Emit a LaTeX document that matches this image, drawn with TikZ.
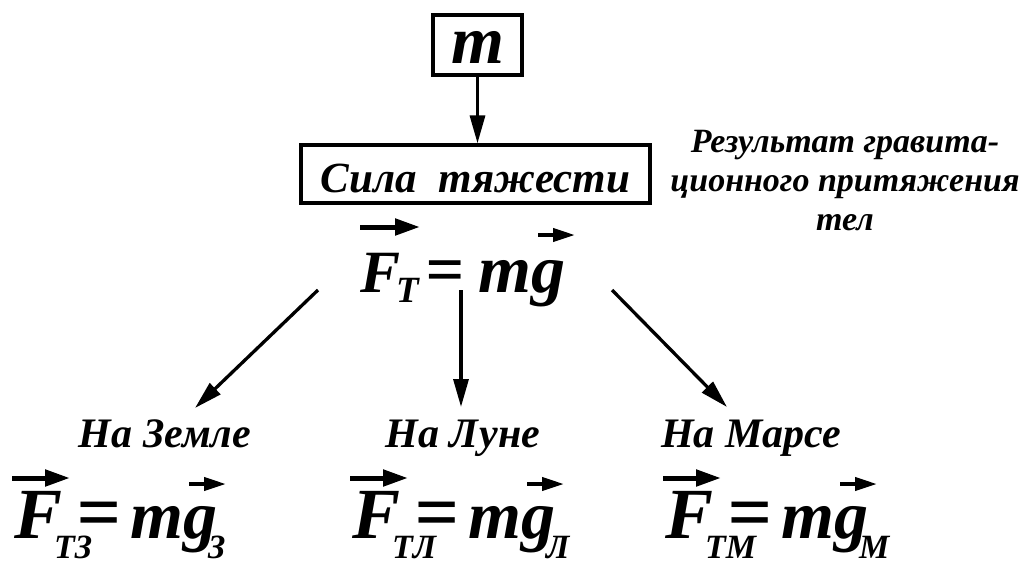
\documentclass[tikz,border=0pt]{standalone}
\usepackage{fontspec}
\newfontfamily\tbi{LiberationSerif-BoldItalic.ttf}
\usetikzlibrary{arrows.meta}
\newcommand\sz[1]{\fontsize{#1}{#1}\selectfont}
\tikzset{
  >={Triangle[length=28pt,width=15pt]},
  box/.style={draw,line width=3.3pt,inner sep=0pt,text height=36pt,text depth=0pt},
  link/.style={->,line width=3.3pt},
  fml/.style={inner sep=0pt,anchor=base west},
  lbl/.style={anchor=base,font=\sz{42}\tbi},
  vecF/.style={line width=5pt,-{Triangle[length=25pt,width=16pt]}},
  vecg/.style={line width=4pt,-{Triangle[length=22pt,width=13pt]}}
}
% piece of a formula, shifted right by #1 and up by #2
\newcommand\at[3]{\rlap{\kern#1\raisebox{#2}{#3}}}
% F_{..} = m g_{..}
\newcommand\gform[2]{\makebox[230pt][l]{%
  \at{0pt}{0pt}{\sz{72}F}%
  \at{40pt}{-20pt}{\sz{34}#1}%
  \at{62pt}{0pt}{\sz{78}=}%
  \at{116pt}{0pt}{\sz{68}mg}%
  \at{194pt}{-20pt}{\sz{34}#2}}}
\begin{document}
\begin{tikzpicture}[x=1pt,y=-1pt,font=\tbi]
\useasboundingbox (0,0) rectangle (1025,563);
\node[box,minimum width=89pt,minimum height=60pt,font=\sz{68}\tbi] (m) at (477.5,45) {m};
\node[box,minimum width=349pt,minimum height=58pt,font=\sz{43}\tbi] (sila) at (475.5,174) {Сила~~тяжести};
\draw[link] (m.south) -- (m.south |- sila.north);
\node[fml] (ftop) at (360,292) {\makebox[220pt][l]{%
  \at{0pt}{0pt}{\sz{60}F}%
  \at{36pt}{-10pt}{\sz{37}Т}%
  \at{65pt}{0pt}{\sz{68}=}%
  \at{118pt}{0pt}{\sz{68}mg}}};
\draw[vecF] ([shift={(0,-65)}]ftop.base west) -- ++(60,0);
\draw[vecg] ([shift={(178,-57)}]ftop.base west) -- ++(37,0);
\node[align=center,font=\fontsize{34}{39}\selectfont\tbi,anchor=base] (note) at (845,230)
  {Результат гравита-\\ционного притяжения\\тел};
% arrows down
\coordinate (s1) at (318,290);
\coordinate (s2) at (461,290);
\coordinate (s3) at (612,290);
\coordinate (t1) at (195,408);
\coordinate (t2) at (461,407);
\coordinate (t3) at (727,407);
\draw[link] (s1) -- (t1);
\draw[link] (s2) -- (t2);
\draw[link] (s3) -- (t3);
\node[lbl] (earth) at (165,447) {На Земле};
\node[lbl] (moon) at (463,447) {На Луне};
\node[lbl] (mars) at (751,447) {На Марсе};
\node[fml] (fearth) at (14,538) {\gform{ТЗ}{З}};
\node[fml] (fmoon) at (352,538) {\gform{ТЛ}{Л}};
\node[fml] (fmars) at (665,538) {\gform{ТМ}{М}};
\foreach \f in {fearth,fmoon,fmars}{
  \draw[vecF] ([shift={(-2,-60)}]\f.base west) -- ++(58,0);
  \draw[vecg] ([shift={(175,-54)}]\f.base west) -- ++(37,0);
}
\end{tikzpicture}
\end{document}
